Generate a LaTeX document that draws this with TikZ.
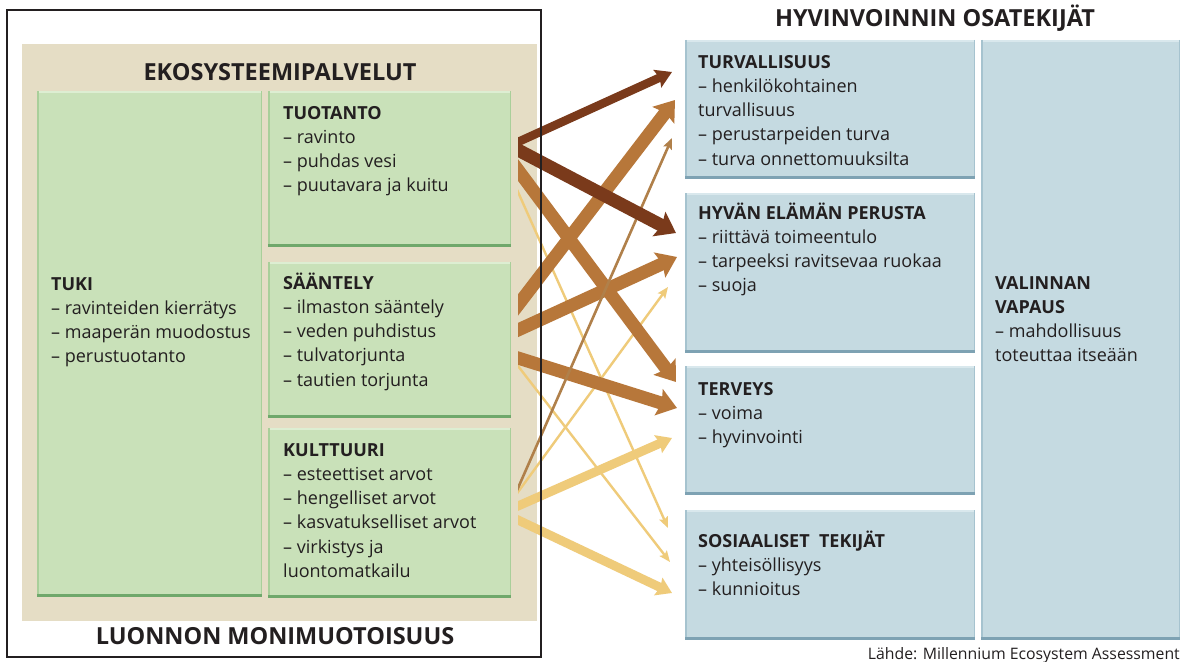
\documentclass[tikz,border=0pt]{standalone}
\usepackage{fontspec}
\setmainfont{Open Sans}
\usetikzlibrary{arrows.meta}
\definecolor{beige}{HTML}{E5DDC5}
\definecolor{gfill}{HTML}{C9E1B9}
\definecolor{gedge}{HTML}{6FA86B}
\definecolor{gside}{HTML}{A9CF9A}
\definecolor{glight}{HTML}{DDEED2}
\definecolor{bfill}{HTML}{C5DAE1}
\definecolor{bedge}{HTML}{7EA2B3}
\definecolor{bside}{HTML}{A6C3CF}
\definecolor{blight}{HTML}{D9E8ED}
\definecolor{darkbr}{HTML}{7A3A1B}
\definecolor{medbr}{HTML}{B7773A}
\definecolor{thinbr}{HTML}{B0804A}
\definecolor{lighty}{HTML}{EFCB7A}
\definecolor{txtc}{HTML}{231F20}
\begin{document}
\begin{tikzpicture}[x=1pt,y=-1pt,
  gbox/.style={fill=gfill,draw=none,inner sep=0,anchor=north west},
  bbox/.style={fill=bfill,draw=none,inner sep=0,anchor=north west},
  txt/.style={inner sep=0,anchor=north west,align=left,text=txtc,
    font=\fontsize{18}{24.2}\selectfont},
  head/.style={inner sep=0,text=txtc,font=\fontsize{23.5}{26}\selectfont\bfseries},
  arrbase/.style={shorten <=-10},
  darkarr/.style={arrbase,draw=darkbr,line width=#1},
  medarr/.style={arrbase,draw=medbr,line width=13,-{Stealth[length=19,width=27,inset=3]}},
  thinarr/.style={arrbase,draw=thinbr,line width=2.6,-{Stealth[length=11,width=9,inset=2]}},
  ythin/.style={arrbase,draw=lighty,line width=2.4,-{Stealth[length=11,width=9,inset=2]}},
  ythick/.style={arrbase,draw=lighty,line width=9,-{Stealth[length=15,width=19,inset=2]}},
]
\useasboundingbox (0,0) rectangle (1185,661);
\fill[white] (0,0) rectangle (1185,661);

% beige background
\node[fill=beige,inner sep=0,anchor=north west,minimum width=515,minimum height=577] (beig) at (22,44) {};

% green boxes
\node[gbox,minimum width=225,minimum height=506] (tuki) at (37,91) {};
\node[gbox,minimum width=243,minimum height=156] (tuo) at (268,91) {};
\node[gbox,minimum width=243,minimum height=156] (saa) at (268,262) {};
\node[gbox,minimum width=243,minimum height=170] (kul) at (268,428) {};
% blue boxes
\node[bbox,minimum width=290,minimum height=139] (turv) at (685,40) {};
\node[bbox,minimum width=290,minimum height=160] (hyv) at (685,193) {};
\node[bbox,minimum width=290,minimum height=129] (terv) at (685,366) {};
\node[bbox,minimum width=290,minimum height=130] (sos) at (685,510) {};
\node[bbox,minimum width=199,minimum height=600] (val) at (981,40) {};

% bevel edges
\foreach \b in {tuki,tuo,saa,kul}{
  \draw[glight,line width=2] ([yshift=-1]\b.north west) -- ([yshift=-1]\b.north east);
  \draw[gside,line width=1.5] ([xshift=0.75]\b.north west) -- ([xshift=0.75]\b.south west);
  \draw[gside,line width=1.5] ([xshift=-0.75]\b.north east) -- ([xshift=-0.75]\b.south east);
  \draw[gedge,line width=3.5] ([yshift=1.75]\b.south west) -- ([yshift=1.75]\b.south east);
}
\foreach \b in {turv,hyv,terv,sos,val}{
  \draw[blight,line width=2] ([yshift=-1]\b.north west) -- ([yshift=-1]\b.north east);
  \draw[bside,line width=1.5] ([xshift=0.75]\b.north west) -- ([xshift=0.75]\b.south west);
  \draw[bside,line width=1.5] ([xshift=-0.75]\b.north east) -- ([xshift=-0.75]\b.south east);
  \draw[bedge,line width=3.5] ([yshift=1.75]\b.south west) -- ([yshift=1.75]\b.south east);
}

% headings
\node[head] (ekoh) at (280,72) {EKOSYSTEEMIPALVELUT};
\node[head] (hyvh) at (935,18) {HYVINVOINNIN OSATEKIJÄT};
\node[head] (luoh) at (275,636) {LUONNON MONIMUOTOISUUS};

% box texts
\node[txt] (tukit) at (51,273.2) {\strut\textbf{TUKI}\\– ravinteiden kierrätys\\– maaperän muodostus\\– perustuotanto};
\node[txt] (tuot) at (283,102.2) {\strut\textbf{TUOTANTO}\\– ravinto\\– puhdas vesi\\– puutavara ja kuitu};
\node[txt] (saat) at (283,272.2) {\strut\textbf{SÄÄNTELY}\\– ilmaston sääntely\\– veden puhdistus\\– tulvatorjunta\\– tautien torjunta};
\node[txt] (kult) at (283,439.2) {\strut\textbf{KULTTUURI}\\– esteettiset arvot\\– hengelliset arvot\\– kasvatukselliset arvot\\– virkistys ja\\luontomatkailu};
\node[txt] (turvt) at (698,51.2) {\strut\textbf{TURVALLISUUS}\\– henkilökohtainen\\turvallisuus\\– perustarpeiden turva\\– turva onnettomuuksilta};
\node[txt] (hyvt) at (698,202.2) {\strut\textbf{HYVÄN ELÄMÄN PERUSTA}\\– riittävä toimeentulo\\– tarpeeksi ravitsevaa ruokaa\\– suoja};
\node[txt] (tervt) at (698,378.2) {\strut\textbf{TERVEYS}\\– voima\\– hyvinvointi};
\node[txt] (sost) at (698,530.2) {\strut\textbf{SOSIAALISET\ \ TEKIJÄT}\\– yhteisöllisyys\\– kunnioitus};
\node[txt] (valt) at (995,272.2) {\strut\textbf{VALINNAN}\\\textbf{VAPAUS}\\– mahdollisuus\\toteuttaa itseään};

\node[inner sep=0,anchor=base east,text=txtc,font=\fontsize{15.8}{18}\selectfont] (lahde) at (1180,659) {Lähde: Millennium Ecosystem Assessment};

% arrow end points
\coordinate (s1) at (518,142);  \coordinate (e1) at (672,72);
\coordinate (s2) at (518,150);  \coordinate (e2) at (676,233);
\coordinate (s3) at (518,305);  \coordinate (e3) at (675,100);
\coordinate (s4) at (518,488);  \coordinate (e4) at (672,138);
\coordinate (s5) at (518,170);  \coordinate (e5) at (676,382);
\coordinate (s6) at (518,330);  \coordinate (e6) at (677,257);
\coordinate (s7) at (518,358);  \coordinate (e7) at (677,408);
\coordinate (s8) at (518,192);  \coordinate (e8) at (668,528);
\coordinate (s9) at (518,366);  \coordinate (e9) at (670,562);
\coordinate (s10) at (518,492); \coordinate (e10) at (668,287);
\coordinate (s11) at (518,506); \coordinate (e11) at (672,438);
\coordinate (s12) at (518,520); \coordinate (e12) at (672,593);

% arrows, cut straight at the left
\begin{scope}
\clip (518,0) rectangle (1185,661);
\draw[ythin] (s8) -- (e8);
\draw[ythin] (s9) -- (e9);
\draw[ythin] (s10) -- (e10);
\draw[ythick] (s11) -- (e11);
\draw[ythick] (s12) -- (e12);
\draw[medarr] (s5) -- (e5);
\draw[medarr] (s3) -- (e3);
\draw[medarr] (s6) -- (e6);
\draw[medarr] (s7) -- (e7);
\draw[thinarr] (s4) -- (e4);
\draw[darkarr=13,-{Stealth[length=19,width=27,inset=3]}] (s2) -- (e2);
\draw[darkarr=8.5,-{Stealth[length=16,width=19,inset=2.5]}] (s1) -- (e1);
\end{scope}

% outer frame
\draw[txtc,line width=2] (7,10) rectangle (541,657);
\end{tikzpicture}
\end{document}
